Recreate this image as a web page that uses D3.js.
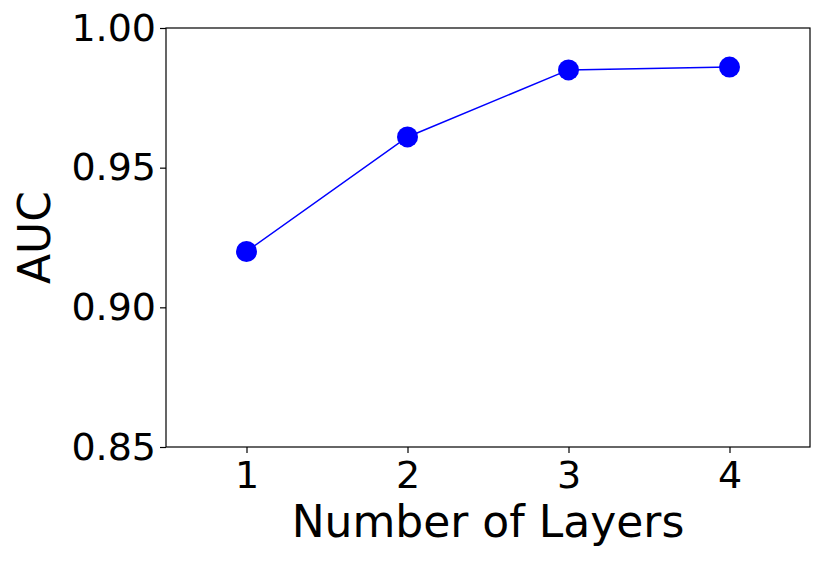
<!DOCTYPE html>
<html>
<head>
<meta charset="utf-8">
<script src="https://cdn.jsdelivr.net/npm/d3@7"></script>
<style>
  body { margin: 0; background: #fff; }
  text { font-family: "DejaVu Sans", sans-serif; }
</style>
</head>
<body>
<svg id="chart" width="830" height="562"></svg>
<script>
var layers = [1, 2, 3, 4];
var auc = [0.920, 0.961, 0.985, 0.986];
var yTicks = [0.85, 0.90, 0.95, 1.00];

var svg = d3.select("#chart");
var mLeft = 166, mRight = 810, mTop = 28, mBottom = 447;

var x = d3.scaleLinear().domain([0.5, 4.5]).range([mLeft, mRight]);
var y = d3.scaleLinear().domain([0.85, 1.00]).range([mBottom, mTop]);

// axes
var xAxis = svg.append("g")
  .attr("transform", "translate(0," + mBottom + ")")
  .call(d3.axisBottom(x).tickValues(layers).tickFormat(d3.format("d")).tickSize(6).tickSizeOuter(0));
var yAxis = svg.append("g")
  .attr("transform", "translate(" + mLeft + ",0)")
  .call(d3.axisLeft(y).tickValues(yTicks).tickFormat(d3.format(".2f")).tickSize(6).tickSizeOuter(0));

[xAxis, yAxis].forEach(function(g) {
  g.selectAll("text").style("font-size", "38px").attr("fill", "#000");
  g.selectAll("line").attr("stroke", "#000").attr("stroke-width", 1.2);
  g.select(".domain").remove();
});
xAxis.selectAll("text").attr("dy", "0.95em").attr("y", 5);
yAxis.selectAll("text").attr("x", -10);

// frame
svg.append("rect")
  .attr("x", mLeft).attr("y", mTop)
  .attr("width", mRight - mLeft).attr("height", mBottom - mTop)
  .attr("fill", "none").attr("stroke", "#000").attr("stroke-width", 1.2);

// line + points
var pts = layers.map(function(d, i) { return [d, auc[i]]; });
svg.append("path")
  .datum(pts)
  .attr("d", d3.line().x(function(d) { return x(d[0]); }).y(function(d) { return y(d[1]); }))
  .attr("fill", "none").attr("stroke", "#0000ff").attr("stroke-width", 1.5);

svg.selectAll("circle.pt")
  .data(pts).enter().append("circle")
  .attr("class", "pt")
  .attr("cx", function(d) { return x(d[0]); })
  .attr("cy", function(d) { return y(d[1]); })
  .attr("r", 10.5)
  .attr("fill", "#0000ff");

// labels
svg.append("text")
  .attr("x", (mLeft + mRight) / 2).attr("y", 537)
  .attr("text-anchor", "middle")
  .style("font-size", "44px")
  .text("Number of Layers");

svg.append("text")
  .attr("transform", "translate(50," + ((mTop + mBottom) / 2) + ") rotate(-90)")
  .attr("text-anchor", "middle")
  .style("font-size", "44px")
  .text("AUC");
</script>
</body>
</html>
